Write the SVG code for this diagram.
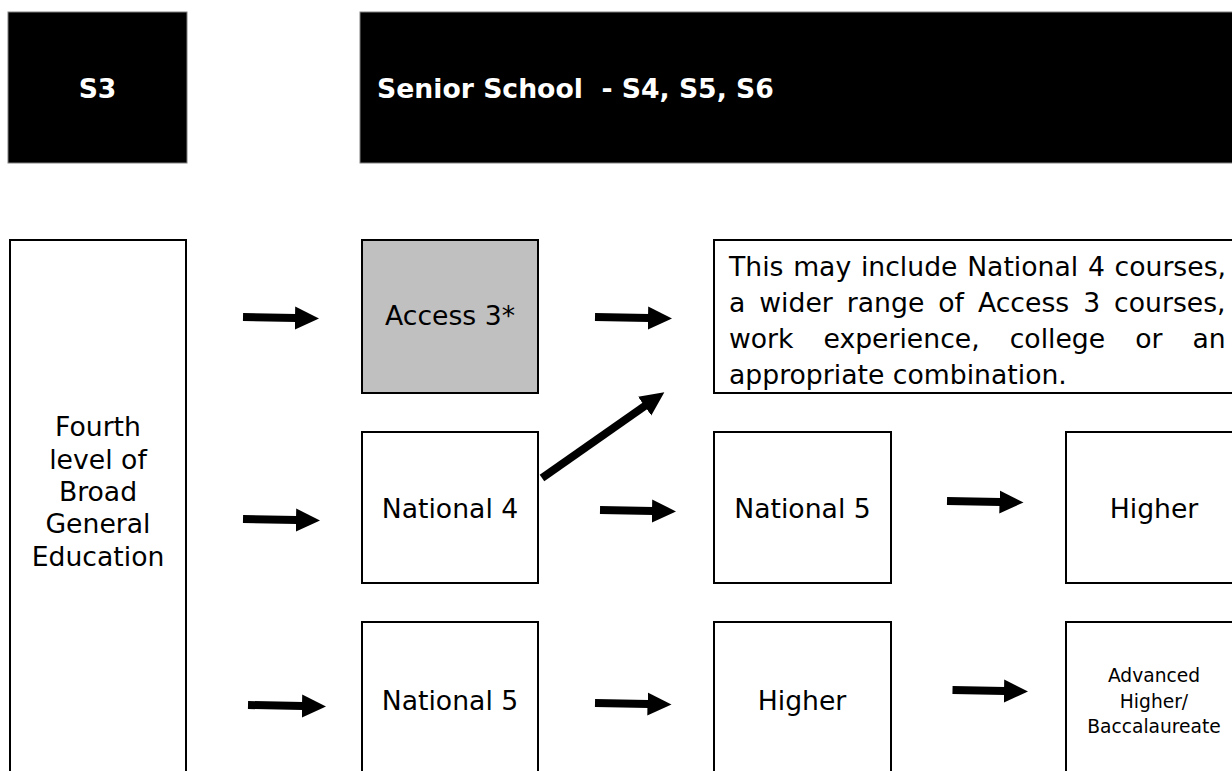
<svg xmlns="http://www.w3.org/2000/svg" width="1232" height="771" viewBox="0 0 1232 771">
<style>
.hdr{fill:#000;stroke:#808080;stroke-width:1}
.box{fill:#fff;stroke:#000;stroke-width:2}
.gray{fill:#c0c0c0;stroke:#000;stroke-width:2}
.ht{font-family:"DejaVu Sans",Verdana,sans-serif;font-weight:bold;font-size:26.67px;fill:#fff}
.t{font-family:"DejaVu Sans",Verdana,sans-serif;font-size:26.67px;fill:#000}
.s{font-family:"DejaVu Sans",Verdana,sans-serif;font-size:18.67px;fill:#000}
.c{text-anchor:middle}
.arr{stroke:#000;stroke-width:8;fill:none;marker-end:url(#ah)}
</style>
<defs>
<marker id="ah" markerUnits="userSpaceOnUse" markerWidth="26" markerHeight="24" refX="1" refY="11.5" orient="auto">
<path d="M0,0 L24,11.5 L0,23 z" fill="#000"/>
</marker>
</defs>
<rect width="1232" height="771" fill="#fff"/>
<g id="s3"><rect class="hdr" x="8" y="12" width="179" height="151"/><text class="ht c" x="97.5" y="98">S3</text></g>
<g id="senior"><rect class="hdr" x="360" y="12" width="880" height="151"/><text class="ht" x="377" y="98" xml:space="preserve">Senior School  - S4, S5, S6</text></g>
<g id="fourth"><rect class="box" x="10" y="240" width="176" height="600"/>
<text class="t c" x="98" y="436">Fourth</text><text class="t c" x="98" y="468.5">level of</text><text class="t c" x="98" y="501">Broad</text><text class="t c" x="98" y="533">General</text><text class="t c" x="98" y="565.5">Education</text></g>
<g id="access3"><rect class="gray" x="362" y="240" width="176" height="153"/><text class="t c" x="450" y="325">Access 3*</text></g>
<g id="note"><rect class="box" x="714" y="240" width="530" height="153"/>
<text class="t" x="729" y="276" style="word-spacing:1.2px">This may include National 4 courses,</text>
<text class="t" x="729" y="312" style="word-spacing:5.5px">a wider range of Access 3 courses,</text>
<text class="t" x="729" y="348" style="word-spacing:21.5px">work experience, college or an</text>
<text class="t" x="729" y="384">appropriate combination.</text></g>
<g id="nat4"><rect class="box" x="362" y="432" width="176" height="151"/><text class="t c" x="450" y="518">National 4</text></g>
<g id="nat5a"><rect class="box" x="714" y="432" width="177" height="151"/><text class="t c" x="802.5" y="518">National 5</text></g>
<g id="highera"><rect class="box" x="1066" y="432" width="177" height="151"/><text class="t c" x="1154" y="518">Higher</text></g>
<g id="nat5b"><rect class="box" x="362" y="622" width="176" height="200"/><text class="t c" x="450" y="710">National 5</text></g>
<g id="higherb"><rect class="box" x="714" y="622" width="177" height="200"/><text class="t c" x="802" y="709.5">Higher</text></g>
<g id="advanced"><rect class="box" x="1066" y="622" width="177" height="200"/>
<text class="s c" x="1154" y="681.5">Advanced</text><text class="s c" x="1154" y="707.5">Higher/</text><text class="s c" x="1154" y="733">Baccalaureate</text></g>
<g id="connectors">
<line class="arr" x1="243" y1="317" x2="296" y2="318"/>
<line class="arr" x1="595" y1="317" x2="649" y2="318"/>
<line class="arr" x1="542" y1="478" x2="645.5" y2="405.5"/>
<line class="arr" x1="600" y1="510" x2="653" y2="511"/>
<line class="arr" x1="243" y1="519" x2="297" y2="520"/>
<line class="arr" x1="248" y1="705" x2="303" y2="706"/>
<line class="arr" x1="947" y1="501" x2="1000.5" y2="502"/>
<line class="arr" x1="595" y1="703" x2="648.5" y2="704"/>
<line class="arr" x1="952.5" y1="690" x2="1005" y2="691"/>
</g>
</svg>
